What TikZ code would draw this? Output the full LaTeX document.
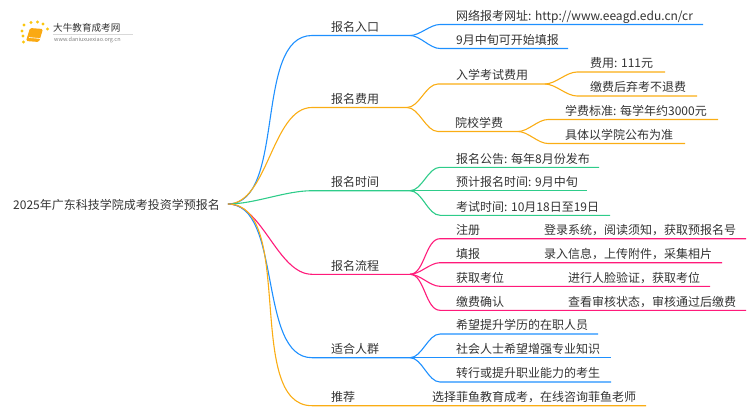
\documentclass[tikz,border=0pt]{standalone}
\usepackage{fontspec}
\setmainfont{Noto Sans CJK SC}

\definecolor{skyline}{HTML}{1E90FF}
\definecolor{amberline}{HTML}{FAAD14}
\definecolor{greenline}{HTML}{2ECC8A}
\definecolor{pinkline}{HTML}{FF1A7A}
\definecolor{inktext}{HTML}{333333}

\tikzset{
  lab/.style={anchor=base west, inner sep=0pt, text=inktext, font=\fontsize{12}{14}\selectfont},
  wire/.style={line width=1.1pt},
  limb/.style={out=0, in=180, looseness=0.8}
}

\begin{document}
\begin{tikzpicture}[x=1pt, y=-1pt]
    \useasboundingbox (0, 0) rectangle (750, 410);

    \coordinate (hub)  at (228, 204);

    \coordinate (entry-s) at (312, 35.5);      \coordinate (entry-e) at (410, 35.5);
    \coordinate (entryurl-s) at (440, 24.5);   \coordinate (entryurl-e) at (703, 24.5);
    \coordinate (entrydate-s) at (440, 48.5);  \coordinate (entrydate-e) at (568, 48.5);

    \coordinate (fee-s) at (312, 107.5);       \coordinate (fee-e) at (407, 107.5);
    \coordinate (feeexam-s) at (438, 84);      \coordinate (feeexam-e) at (545, 84);
    \coordinate (feeamount-s) at (577, 72);    \coordinate (feeamount-e) at (665, 72);
    \coordinate (feequit-s) at (577, 96);      \coordinate (feequit-e) at (697, 96);
    \coordinate (feeschool-s) at (438, 131.5); \coordinate (feeschool-e) at (518, 131.5);
    \coordinate (feestd-s) at (548, 119.5);    \coordinate (feestd-e) at (718, 119.5);
    \coordinate (feerule-s) at (548, 143.5);   \coordinate (feerule-e) at (685, 143.5);

    \coordinate (time-s) at (312, 190.7);      \coordinate (time-e) at (410, 190.7);
    \coordinate (timenews-s) at (440, 167.3);  \coordinate (timenews-e) at (599, 167.3);
    \coordinate (timeplan-e) at (587, 190.7);
    \coordinate (timeexam-s) at (440, 215.3);  \coordinate (timeexam-e) at (610, 215.3);

    \coordinate (flow-s) at (312, 274.3);      \coordinate (flow-e) at (410, 274.3);
    \coordinate (flowreg-s) at (440, 238.7);   \coordinate (flowreg-e) at (746, 238.7);
    \coordinate (flowfill-s) at (440, 262.7);  \coordinate (flowfill-e) at (722, 262.7);
    \coordinate (flowseat-s) at (440, 286.3);  \coordinate (flowseat-e) at (710, 286.3);
    \coordinate (flowpay-s) at (440, 310.3);   \coordinate (flowpay-e) at (746, 310.3);

    \coordinate (crowd-s) at (312, 357.7);     \coordinate (crowd-e) at (410, 357.7);
    \coordinate (crowdwork-s) at (440, 334);   \coordinate (crowdwork-e) at (598, 334);
    \coordinate (crowdsoc-e) at (611, 357.7);
    \coordinate (crowdjob-s) at (440, 382);    \coordinate (crowdjob-e) at (611, 382);

    \coordinate (tip-s) at (312, 405.7);       \coordinate (tip-e) at (646, 405.7);

    \node[lab] (root) at (13, 209.5) {2025年广东科技学院成考投资学预报名};

    \node[lab] (entry) at (331, 31.5) {报名入口};
    \node[lab] (entryurl) at (456, 20) {网络报考网址: http://www.eeagd.edu.cn/cr};
    \node[lab] (entrydate) at (456, 44) {9月中旬可开始填报};

    \node[lab] (fee) at (331, 103.5) {报名费用};
    \node[lab] (feeexam) at (456, 79.5) {入学考试费用};
    \node[lab] (feeamount) at (590, 67.5) {费用: 111元};
    \node[lab] (feequit) at (590, 91.5) {缴费后弃考不退费};
    \node[lab] (feeschool) at (455, 127) {院校学费};
    \node[lab] (feestd) at (565, 115) {学费标准: 每学年约3000元};
    \node[lab] (feerule) at (565, 139) {具体以学院公布为准};

    \node[lab] (time) at (331, 186.5) {报名时间};
    \node[lab] (timenews) at (456, 163) {报名公告: 每年8月份发布};
    \node[lab] (timeplan) at (456, 186.5) {预计报名时间: 9月中旬};
    \node[lab] (timeexam) at (456, 211) {考试时间: 10月18日至19日};

    \node[lab] (flow) at (331, 270) {报名流程};
    \node[lab] (flowreg) at (456, 234.5) {注册};
    \node[lab] at (544, 234.5) {登录系统，阅读须知，获取预报名号};
    \node[lab] (flowfill) at (456, 258.5) {填报};
    \node[lab] at (544, 258.5) {录入信息，上传附件，采集相片};
    \node[lab] (flowseat) at (456, 282) {获取考位};
    \node[lab] at (568, 282) {进行人脸验证，获取考位};
    \node[lab] (flowpay) at (456, 306) {缴费确认};
    \node[lab] at (568, 306) {查看审核状态，审核通过后缴费};

    \node[lab] (crowd) at (331, 353.5) {适合人群};
    \node[lab] (crowdwork) at (456, 329.5) {希望提升学历的在职人员};
    \node[lab] (crowdsoc) at (456, 353.5) {社会人士希望增强专业知识};
    \node[lab] (crowdjob) at (456, 377.5) {转行或提升职业能力的考生};

    \node[lab] (tip) at (331, 401.5) {推荐};
    \node[lab] (tiptext) at (432, 401.5) {选择菲鱼教育成考，在线咨询菲鱼老师};

    \draw[wire, skyline] (hub) to[limb] (entry-s) -- (entry-e);
    \draw[wire, skyline] (entry-e) to[limb] (entryurl-s) -- (entryurl-e);
    \draw[wire, skyline] (entry-e) to[limb] (entrydate-s) -- (entrydate-e);

    \draw[wire, amberline] (hub) to[limb] (fee-s) -- (fee-e);
    \draw[wire, amberline] (fee-e) to[limb] (feeexam-s) -- (feeexam-e);
    \draw[wire, amberline] (feeexam-e) to[limb] (feeamount-s) -- (feeamount-e);
    \draw[wire, amberline] (feeexam-e) to[limb] (feequit-s) -- (feequit-e);
    \draw[wire, amberline] (fee-e) to[limb] (feeschool-s) -- (feeschool-e);
    \draw[wire, amberline] (feeschool-e) to[limb] (feestd-s) -- (feestd-e);
    \draw[wire, amberline] (feeschool-e) to[limb] (feerule-s) -- (feerule-e);

    \draw[wire, greenline] (hub) to[limb] (time-s) -- (time-e);
    \draw[wire, greenline] (time-e) to[limb] (timenews-s) -- (timenews-e);
    \draw[wire, greenline] (time-e) -- (timeplan-e);
    \draw[wire, greenline] (time-e) to[limb] (timeexam-s) -- (timeexam-e);

    \draw[wire, pinkline] (hub) to[limb] (flow-s) -- (flow-e);
    \draw[wire, pinkline] (flow-e) to[limb] (flowreg-s) -- (flowreg-e);
    \draw[wire, pinkline] (flow-e) to[limb] (flowfill-s) -- (flowfill-e);
    \draw[wire, pinkline] (flow-e) to[limb] (flowseat-s) -- (flowseat-e);
    \draw[wire, pinkline] (flow-e) to[limb] (flowpay-s) -- (flowpay-e);

    \draw[wire, skyline] (hub) to[limb] (crowd-s) -- (crowd-e);
    \draw[wire, skyline] (crowd-e) to[limb] (crowdwork-s) -- (crowdwork-e);
    \draw[wire, skyline] (crowd-e) -- (crowdsoc-e);
    \draw[wire, skyline] (crowd-e) to[limb] (crowdjob-s) -- (crowdjob-e);

    \draw[wire, amberline] (hub) to[limb] (tip-s) -- (tip-e);

    \fill[amberline!90!orange, rounded corners=1.5pt] (30, 28) -- (43, 29) -- (39, 42) -- (26, 41) -- cycle;
    \draw[white, line width=0.6pt] (29, 37.5) -- (40, 38.5);
    \foreach \dotx/\doty in {24/25, 31/22.5, 37.5/22, 43/24, 47.5/29, 22/31, 23/36, 23.5/42}
      \fill[amberline!70!yellow] (\dotx, \doty) circle (1.6);

    \node[lab, font=\fontsize{9.6}{11}\selectfont] (logotitle) at (53, 31) {大牛教育成考网};
    \node[lab, font=\fontsize{5.5}{6}\selectfont, text=gray] (logourl) at (54, 41) {www.daniuxuexiao.org.cn};
    \draw[black!15, line width=0.4pt] (logotitle.base west) ++(0, 3) -- ++(80, 0);
\end{tikzpicture}
\end{document}
